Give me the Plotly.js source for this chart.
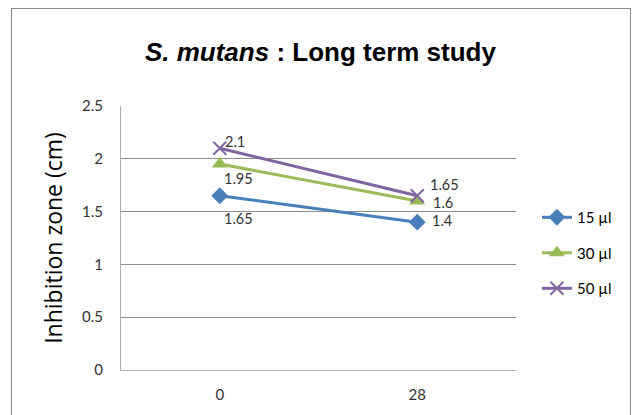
<!DOCTYPE html>
<html>
<head>
<meta charset="utf-8">
<script src="https://cdn.plot.ly/plotly-3.0.1.min.js"></script>
<style>
html,body{margin:0;padding:0;background:#fff;}
#wrap{position:relative;width:632px;height:415px;overflow:hidden;}
#chart{position:absolute;left:0;top:0;width:632px;height:415px;}
#frame{position:absolute;left:11px;top:8px;width:618px;height:420px;border:1px solid #8a8a8a;border-bottom:none;pointer-events:none;}
</style>
</head>
<body>
<div id="wrap"><div id="chart"></div><div id="frame"></div></div>
<script>
const categories = ['0', '28'];
const seriesNames = ['15 µl', '30 µl', '50 µl'];
const s15 = [1.65, 1.4];
const s30 = [1.95, 1.6];
const s50 = [2.1, 1.65];
const yTicks = [0, 0.5, 1, 1.5, 2, 2.5];
const yTickText = ['0', '0.5', '1', '1.5', '2', '2.5'];

const colors = ['#4A7EBB', '#9BBB59', '#8064A2'];
const uiFont = 'Lato, "Open Sans", sans-serif';
const labelFont = {family: uiFont, size: 14.5, color: '#333333'};

// label placement offsets in pixels (style only): [dx, dy] per point
const labelShift = [
  [[3, -23], [14, 2]],
  [[3, -14], [15, -1]],
  [[4, 7], [12, 11]]
];

function trace(name, vals, color, symbol, msize, mline, group) {
  return {
    type: 'scatter', mode: 'lines+markers',
    x: categories, y: vals, name: name, legendgroup: group,
    line: {color: color, width: 3},
    marker: {color: color, symbol: symbol, size: msize, line: mline},
    cliponaxis: false
  };
}

const allSeries = [s15, s30, s50];
const data = [
  trace(seriesNames[0], s15, colors[0], 'diamond', 13, {width: 0}, 'a'),
  trace(seriesNames[1], s30, colors[1], 'triangle-up', 14, {width: 0}, 'b'),
  trace(seriesNames[2], s50, colors[2], 'x-thin-open', 13, {width: 2, color: colors[2]}, 'c')
];

const annotations = [];
allSeries.forEach((vals, si) => {
  vals.forEach((v, pi) => {
    annotations.push({
      x: pi, y: v, xref: 'x', yref: 'y',   // category index of categories[pi]
      text: String(v), showarrow: false,
      xanchor: 'left', yanchor: 'middle', borderpad: 0,
      xshift: labelShift[si][pi][0], yshift: labelShift[si][pi][1],
      font: labelFont
    });
  });
});

const layout = {
  width: 632, height: 415,
  margin: {l: 121, r: 116, t: 106, b: 45},
  paper_bgcolor: '#ffffff', plot_bgcolor: '#ffffff',
  showlegend: true,
  annotations: annotations,
  title: {
    text: '<i>S. mutans</i> : Long term study',
    font: {family: '"Liberation Sans", Arial, sans-serif', size: 26, color: '#000000', weight: 'bold'},
    x: 0.507, xanchor: 'center', y: 0.875, yanchor: 'middle'
  },
  xaxis: {
    type: 'category', range: [-0.5, 1.5],
    showline: true, linecolor: '#b0b0b0', linewidth: 1,
    showgrid: false, zeroline: false, ticks: '',
    tickfont: {family: uiFont, size: 15, color: '#333333'},
    ticklabelstandoff: 11
  },
  yaxis: {
    range: [0, 2.5], tickvals: yTicks, ticktext: yTickText,
    showline: true, linecolor: '#b0b0b0', linewidth: 1,
    showgrid: true, gridcolor: '#8c8c8c', gridwidth: 1, zeroline: false, ticks: '',
    tickfont: {family: uiFont, size: 15, color: '#333333'},
    ticklabelstandoff: 14,
    title: {text: 'Inhibition zone (cm)', font: {family: '"Open Sans", Lato, sans-serif', size: 23, color: '#000000'}, standoff: 12}
  },
  legend: {
    x: 1.053, xanchor: 'left', y: 0.64, yanchor: 'top',
    font: {family: uiFont, size: 15, color: '#000000'},
    bgcolor: 'rgba(0,0,0,0)', tracegroupgap: 13, itemwidth: 30
  }
};

Plotly.newPlot('chart', data, layout, {displayModeBar: false, staticPlot: true});
</script>
</body>
</html>
